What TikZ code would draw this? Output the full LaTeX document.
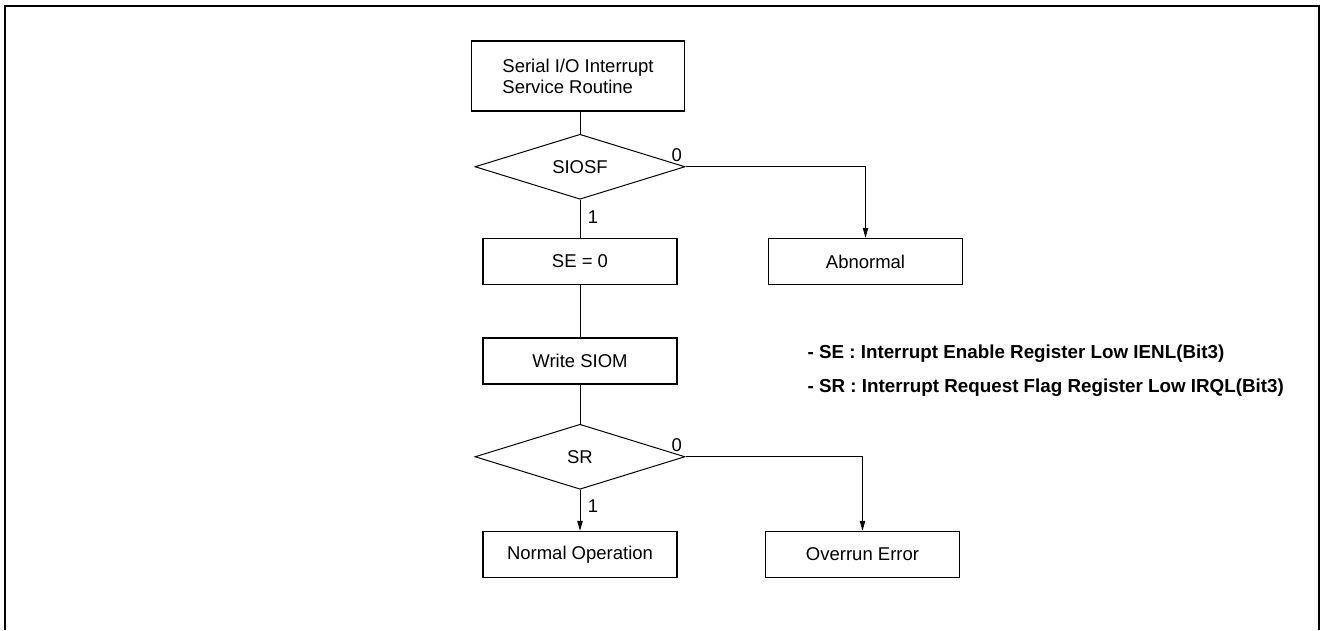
\documentclass[tikz,border=0pt]{standalone}
\usepackage{fontspec}
\setmainfont{Liberation Sans}
\usetikzlibrary{arrows.meta,positioning,shapes.geometric}

\begin{document}
\begin{tikzpicture}[x=1pt,y=-1pt,
		font=\fontsize{18.5}{21}\selectfont,
		stepbox/.style={rectangle, draw, line width=1.5pt, minimum width=194pt, minimum height=46pt, inner sep=0pt},
		test/.style={diamond, draw, line width=1pt, aspect=3.2, minimum width=210pt, minimum height=65pt, inner sep=0pt},
		flow/.style={line width=0.9pt},
		note/.style={anchor=west, font=\fontsize{18.8}{21}\selectfont\bfseries},
		>={Triangle[length=10pt,width=5.5pt]}]
		\useasboundingbox (0,0) rectangle (1324,630);
		
		% frame, open at the bottom
		\draw [line width=2pt] (5,630) -- (5,6) -- (1319,6) -- (1319,630);
		
		\node [stepbox, minimum width=213pt, minimum height=70pt, align=left] (isr) at (578,76) {Serial I/O Interrupt\\Service Routine};
		\node [test] (siosf) [below=22pt of isr, xshift=2pt] {SIOSF};
		\node [stepbox] (se) [below=38pt of siosf] {SE = 0};
		\node [stepbox] (abn) [right=90pt of se] {Abnormal};
		\node [stepbox] (wsiom) [below=52pt of se] {Write SIOM};
		\node [test] (sr) [below=39pt of wsiom] {SR};
		\node [stepbox] (norm) [below=41pt of sr] {Normal Operation};
		\node [stepbox] (ovr) [right=87pt of norm] {Overrun Error};
		
		\draw [flow] (isr.south -| siosf.north) -- (siosf);
		\draw [flow] (siosf) -- node [right=4pt, pos=0.45] {1} (se);
		\draw [flow,->] (siosf.east) -| (abn.north);
		\node [above left=2pt and 0pt of siosf.east] (z1) {0};
		\draw [flow] (se) -- (wsiom);
		\draw [flow] (wsiom) -- (sr);
		\draw [flow,->] (sr) -- node [right=4pt, pos=0.4] {1} (norm);
		\draw [flow,->] (sr.east) -| (ovr.north);
		\node [above left=2pt and 0pt of sr.east] (z2) {0};
		
		% register notes
		\node [note] (nse) at (804,354) {- SE : Interrupt Enable Register Low IENL(Bit3)};
		\node [note] (nsr) at (804,388) {- SR : Interrupt Request Flag Register Low IRQL(Bit3)};
		
	\end{tikzpicture}
\end{document}
